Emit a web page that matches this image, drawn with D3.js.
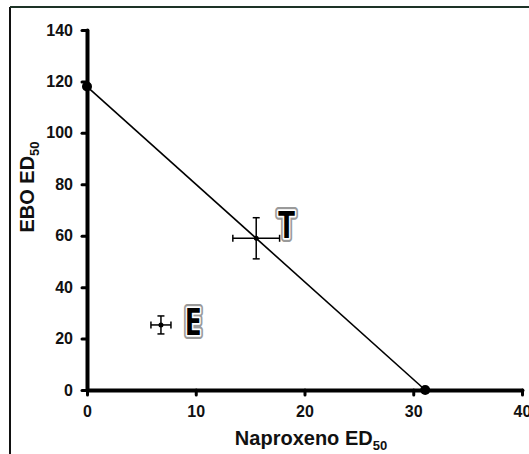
<!DOCTYPE html>
<html><head><meta charset="utf-8">
<script src="https://cdn.jsdelivr.net/npm/d3@7"></script>
<style>html,body{margin:0;padding:0;background:#fff;}svg{display:block;}</style>
</head><body>
<svg id="c" width="529" height="454"></svg>
<script>
const xTicks = [0, 10, 20, 30, 40];
const yTicks = [0, 20, 40, 60, 80, 100, 120, 140];
const pointLabels = ["T", "E"];
const pointX = [15.56, 6.8];
const pointY = [59, 25.3];
const pointXErr = [2.15, 0.92];
const pointYErr = [8, 3.5];
const naproxenoED50 = 31.1;
const eboED50 = 118;

const svg = d3.select("#c");
const x = d3.scaleLinear().domain([0, 40]).range([87, 522]);
const y = d3.scaleLinear().domain([0, 140]).range([390, 30]);

// frame
svg.append("line").attr("x1", 10).attr("x2", 10).attr("y1", 7).attr("y2", 454).attr("stroke", "#111").attr("stroke-width", 2);
svg.append("line").attr("x1", 10).attr("x2", 529).attr("y1", 7).attr("y2", 7).attr("stroke", "#1d3326").attr("stroke-width", 2);

// axes
const yAxis = d3.axisLeft(y).tickValues(yTicks).tickSize(5).tickPadding(9).tickSizeOuter(0);
const xAxis = d3.axisBottom(x).tickValues(xTicks).tickSize(5).tickPadding(8).tickSizeOuter(0);
const gy = svg.append("g").attr("transform", `translate(${x(0)},0)`).call(yAxis);
const gx = svg.append("g").attr("transform", `translate(0,${y(0)})`).call(xAxis);
[gx, gy].forEach(g => {
  g.select(".domain").attr("stroke", "#000").attr("stroke-width", 4).attr("stroke-linecap", "round");
  g.selectAll(".tick line").attr("stroke", "#000").attr("stroke-width", 3).attr("stroke-linecap", "round");
  g.selectAll(".tick text").attr("font-family", "Liberation Sans, Arial, sans-serif").attr("font-size", 16).attr("font-weight", "bold").attr("fill", "#111");
});
gx.selectAll(".tick text").attr("dy", "0.9em");

// additivity line
svg.append("line")
  .attr("x1", x(0)).attr("y1", y(eboED50))
  .attr("x2", x(naproxenoED50)).attr("y2", y(0))
  .attr("stroke", "#000").attr("stroke-width", 1.6);
svg.selectAll("circle.end").data([[0, eboED50], [naproxenoED50, 0]]).enter()
  .append("circle").attr("class", "end")
  .attr("cx", d => x(d[0])).attr("cy", d => y(d[1])).attr("r", 5).attr("fill", "#000");

// points with error bars
const pts = pointLabels.map((l, i) => ({l, x: pointX[i], y: pointY[i], ex: pointXErr[i], ey: pointYErr[i]}));
const cap = 3.5;
pts.forEach(p => {
  const g = svg.append("g").attr("stroke", "#000").attr("stroke-width", 1.5);
  g.append("line").attr("x1", x(p.x - p.ex)).attr("x2", x(p.x + p.ex)).attr("y1", y(p.y)).attr("y2", y(p.y));
  g.append("line").attr("x1", x(p.x)).attr("x2", x(p.x)).attr("y1", y(p.y - p.ey)).attr("y2", y(p.y + p.ey));
  g.append("line").attr("x1", x(p.x - p.ex)).attr("x2", x(p.x - p.ex)).attr("y1", y(p.y) - cap).attr("y2", y(p.y) + cap);
  g.append("line").attr("x1", x(p.x + p.ex)).attr("x2", x(p.x + p.ex)).attr("y1", y(p.y) - cap).attr("y2", y(p.y) + cap);
  g.append("line").attr("x1", x(p.x) - cap).attr("x2", x(p.x) + cap).attr("y1", y(p.y - p.ey)).attr("y2", y(p.y - p.ey));
  g.append("line").attr("x1", x(p.x) - cap).attr("x2", x(p.x) + cap).attr("y1", y(p.y + p.ey)).attr("y2", y(p.y + p.ey));
  svg.append("circle").attr("cx", x(p.x)).attr("cy", y(p.y)).attr("r", 2.5).attr("fill", "#000");
});

// outlined labels
const labelPos = {T: [x(pointX[0] + pointXErr[0]) + 7, y(pointY[0]) - 15], E: [x(pointX[1] + pointXErr[1]) + 22, y(pointY[1]) - 5]};
pts.forEach(p => {
  const [lx, ly] = labelPos[p.l];
  const attrs = t => t.attr("transform", `translate(${lx},${ly}) scale(0.8,1)`).attr("text-anchor", "middle").attr("dominant-baseline", "central")
    .attr("font-family", "Open Sans, Liberation Sans, sans-serif").attr("font-weight", "bold").attr("font-size", 38).text(p.l);
  attrs(svg.append("text")).attr("fill", "none").attr("stroke", "#9a9a9a").attr("stroke-width", 8).attr("stroke-linejoin", "round");
  attrs(svg.append("text")).attr("fill", "none").attr("stroke", "#fff").attr("stroke-width", 3.6).attr("stroke-linejoin", "round");
  attrs(svg.append("text")).attr("fill", "#000");
});

// axis titles
const xt = svg.append("text").attr("x", 311).attr("y", 445).attr("text-anchor", "middle")
  .attr("font-family", "Liberation Sans, Arial, sans-serif").attr("font-weight", "bold").attr("font-size", 20).attr("fill", "#111");
xt.append("tspan").text("Naproxeno ED");
xt.append("tspan").attr("font-size", 13).attr("dy", 5).text("50");

const yt = svg.append("text").attr("transform", "translate(34,187) rotate(-90)").attr("text-anchor", "middle")
  .attr("font-family", "Liberation Sans, Arial, sans-serif").attr("font-weight", "bold").attr("font-size", 20).attr("fill", "#111");
yt.append("tspan").text("EBO ED");
yt.append("tspan").attr("font-size", 13).attr("dy", 5).text("50");
</script>
</body></html>
